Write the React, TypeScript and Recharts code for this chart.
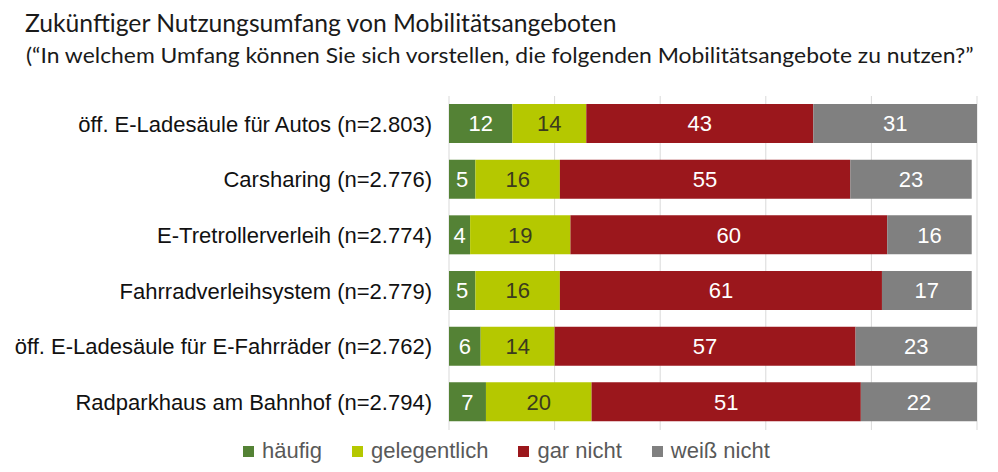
import React, { useMemo } from 'react';
import { BarChart, Bar, XAxis, YAxis, CartesianGrid, LabelList } from 'recharts';

const categories = [
    'öff. E-Ladesäule für Autos (n=2.803)',
    'Carsharing (n=2.776)',
    'E-Tretrollerverleih (n=2.774)',
    'Fahrradverleihsystem (n=2.779)',
    'öff. E-Ladesäule für E-Fahrräder (n=2.762)',
    'Radparkhaus am Bahnhof (n=2.794)',
];
const haeufig = [12, 5, 4, 5, 6, 7];
const gelegentlich = [14, 16, 19, 16, 14, 20];
const garNicht = [43, 55, 60, 61, 57, 51];
const weissNicht = [31, 23, 16, 17, 23, 22];
const xTicks = [0, 20, 40, 60, 80, 100];

const title = 'Zukünftiger Nutzungsumfang von Mobilitätsangeboten';
const subtitle = '(“In welchem Umfang können Sie sich vorstellen, die folgenden Mobilitätsangebote zu nutzen?”';

const series = [
    { key: 'haeufig', name: 'häufig', color: '#548235', text: '#ffffff' },
    { key: 'gelegentlich', name: 'gelegentlich', color: '#b5c800', text: '#3b3b1e' },
    { key: 'garNicht', name: 'gar nicht', color: '#9b171c', text: '#ffffff' },
    { key: 'weissNicht', name: 'weiß nicht', color: '#808080', text: '#ffffff' },
];

const data = categories.map((name, i) => ({
    name,
    haeufig: haeufig[i],
    gelegentlich: gelegentlich[i],
    garNicht: garNicht[i],
    weissNicht: weissNicht[i],
}));

const font = '"Liberation Sans", Arial, sans-serif';
const headFont = 'Lato, sans-serif';

// the heading font of the original (Calibri) isn't installed, so fit Lato to the same width
const textWidth = (text: string, size: number) => {
    const ctx = document.createElement('canvas').getContext('2d');
    if (!ctx) return 0;
    ctx.font = `${size}px ${headFont}`;
    return ctx.measureText(text).width;
};

const App: React.FC = () => {
    const titleScale = useMemo(() => 593 / (textWidth(title, 25) || 593), []);
    const subScale = useMemo(() => 949 / (textWidth(subtitle, 21) || 949), []);

    return (
        <div style={{ position: 'absolute', left: 0, top: 0, width: 998, height: 472, background: '#fff' }}>
            <BarChart
                width={998}
                height={472}
                data={data}
                layout="vertical"
                margin={{ top: 96, right: 21, left: 0, bottom: 42 }}
                style={{ position: 'absolute', left: 0, top: 0 }}
            >
                <CartesianGrid horizontal={false} stroke="#d9d9d9" />
                <XAxis type="number" domain={[0, 100]} ticks={xTicks} hide />
                <YAxis
                    dataKey="name"
                    type="category"
                    width={449}
                    axisLine={false}
                    tickLine={false}
                    tickSize={0}
                    tickMargin={17}
                    tick={{ fontSize: 22, fill: '#111', fontFamily: font }}
                />
                {series.map(s => (
                    <Bar key={s.key} dataKey={s.key} name={s.name} stackId="a" fill={s.color} barSize={39} isAnimationActive={false}>
                        <LabelList dataKey={s.key} position="center" fill={s.text} fontSize={22} fontFamily={font} />
                    </Bar>
                ))}
            </BarChart>
            <svg width={998} height={80} style={{ position: 'absolute', left: 0, top: 0 }}>
                <text transform={`translate(25,32) scale(${titleScale},1)`} fontFamily={headFont} fontSize={25} fill="#1a1a1a">
                    {title}
                </text>
                <text transform={`translate(26,63) scale(${subScale},1)`} fontFamily={headFont} fontSize={21} fill="#1a1a1a">
                    {subtitle}
                </text>
            </svg>
            <div style={{ position: 'absolute', left: 243, top: 438, display: 'flex', fontFamily: font, fontSize: 22, lineHeight: '26px', color: '#595959' }}>
                {series.map((s, i) => (
                    <div key={s.key} style={{ display: 'flex', alignItems: 'center', marginRight: i < 3 ? 30 : 0 }}>
                        <span style={{ width: 11, height: 11, background: s.color, marginRight: 8, display: 'inline-block' }} />
                        <span>{s.name}</span>
                    </div>
                ))}
            </div>
        </div>
    );
};

export default App;
